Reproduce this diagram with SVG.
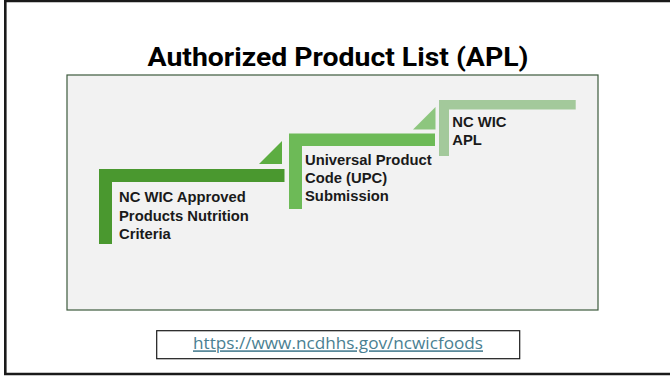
<svg xmlns="http://www.w3.org/2000/svg" width="670" height="376" viewBox="0 0 670 376">
<style>
.lbl{font-family:"Liberation Sans",Arial,sans-serif;font-weight:bold;font-size:14.8px;fill:#1a1a1a}
.title{font-family:Roboto,"Liberation Sans",sans-serif;font-weight:bold;font-size:25px;fill:#000}
.url{font-family:"Open Sans","Liberation Sans",sans-serif;font-size:16px;fill:#4a7f92;text-decoration:underline}
</style>
<rect x="0" y="0" width="670" height="376" fill="#fff"/>
<path d="M5.3 0 V374 H672 M5.3 1 H672" fill="none" stroke="#1a1a1a" stroke-width="2.6"/>
<text class="title" x="338" y="66" text-anchor="middle" textLength="381" lengthAdjust="spacingAndGlyphs">Authorized Product List (APL)</text>
<rect id="panel" x="67" y="75" width="531" height="235" fill="#f2f2f2" stroke="#3d5a3d" stroke-width="1.2"/>
<g id="connectors">
<polygon points="259,164 282,141 282,164" fill="#5cad41"/>
<polygon points="413,129.5 435.5,107 435.5,129.5" fill="#8dc67e"/>
</g>
<g id="step1">
<path d="M99 244 V169 H284.5 V182 H112 V244 Z" fill="#4a982f"/>
<text class="lbl" x="119" y="201.7">NC WIC Approved</text>
<text class="lbl" x="119" y="220.5">Products Nutrition</text>
<text class="lbl" x="119" y="238.5">Criteria</text>
</g>
<g id="step2">
<path d="M289 209 V133.5 H435 V146 H302 V209 Z" fill="#6dba57"/>
<text class="lbl" x="305" y="165">Universal Product</text>
<text class="lbl" x="305" y="183.3">Code (UPC)</text>
<text class="lbl" x="305" y="201">Submission</text>
</g>
<g id="step3">
<path d="M439 156 V100 H575.7 V109.5 H449 V156 Z" fill="#a3c99b"/>
<text class="lbl" x="452.3" y="126.7">NC WIC</text>
<text class="lbl" x="452.3" y="145">APL</text>
</g>
<g id="url">
<rect x="156.7" y="330.7" width="363" height="28" fill="#fff" stroke="#1a1a1a" stroke-width="1.2"/>
<text class="url" x="338" y="349.3" text-anchor="middle" textLength="290" lengthAdjust="spacingAndGlyphs">https://www.ncdhhs.gov/ncwicfoods</text>
</g>
</svg>
